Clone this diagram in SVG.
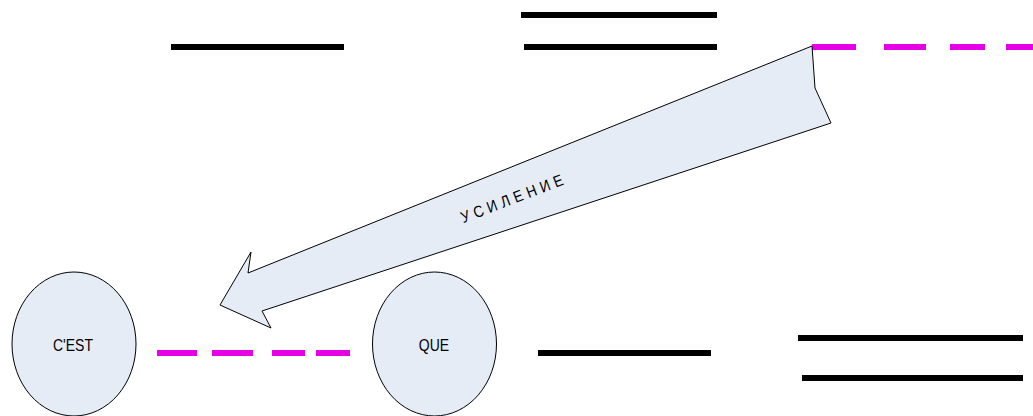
<svg xmlns="http://www.w3.org/2000/svg" width="1033" height="416" viewBox="0 0 1033 416">
<style>
.bar{stroke:#000;stroke-width:6;fill:none}
.dash{stroke:#e600e6;stroke-width:6;fill:none}
.shape{fill:#e6ecf6;stroke:#000;stroke-width:1}
.lbl{font-family:"Liberation Sans",Arial,sans-serif;font-size:14px;fill:#000;text-anchor:middle}
</style>
<rect width="1033" height="416" fill="#fff"/>
<g id="lines">
<line class="bar" x1="171" y1="47" x2="344" y2="47"/>
<line class="bar" x1="521" y1="15" x2="717" y2="15"/>
<line class="bar" x1="524" y1="47" x2="717" y2="47"/>
<line class="bar" x1="538" y1="353" x2="711" y2="353"/>
<line class="bar" x1="798" y1="338" x2="1023" y2="338"/>
<line class="bar" x1="802" y1="378" x2="1023" y2="378"/>
</g>
<g id="connectors">
<path class="dash" d="M812 47H856M884 47H926M950 47H985M1006 47H1033"/>
<path class="dash" d="M157 353H197M212 353H253M272 353H305M316 353H350"/>
</g>
<g id="arrow">
<polygon class="shape" points="812,46 815,88 831,123 262,311 271,328 220,305 251,252 248,273"/>
<text class="lbl" font-size="17" letter-spacing="4.5" transform="translate(516,203) rotate(-21) scale(1,1.15)">УСИЛЕНИЕ</text>
</g>
<g id="cest">
<ellipse class="shape" cx="74" cy="344" rx="62" ry="72"/>
<text class="lbl" transform="translate(73,351) scale(1,1.2)">C'EST</text>
</g>
<g id="que">
<ellipse class="shape" cx="434.5" cy="344" rx="62" ry="72"/>
<text class="lbl" transform="translate(434,351) scale(1,1.2)">QUE</text>
</g>
</svg>
